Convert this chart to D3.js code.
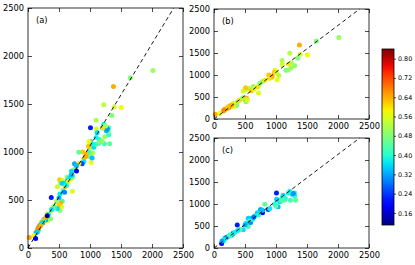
<!DOCTYPE html>
<html><head><meta charset="utf-8">
<script src="https://cdn.jsdelivr.net/npm/d3@7"></script>
<style>body{margin:0;background:#fff}svg{display:block}text{font-family:"DejaVu Sans",sans-serif}</style>
</head><body><svg id="c" width="415" height="265"></svg>
<script>
const axisTicks = [0, 500, 1000, 1500, 2000, 2500];
const cbTicks = [0.16, 0.24, 0.32, 0.40, 0.48, 0.56, 0.64, 0.72, 0.80];
const cbDomain = [0.11, 0.84];
const refLine = [[0, 0], [2350, 2500]];
// [x, y, value]
const seriesB = [
[2015,1850,0.50],[1651,1774,0.48],[1378,1683,0.64],[1222,1493,0.53],[1506,1463,0.58],
[1390,1470,0.55],[1351,1380,0.48],[1099,1330,0.52],[1206,1251,0.60],[1300,1210,0.49],
[1240,1160,0.50],[1195,1114,0.50],[1160,1110,0.48],[1045,990,0.52],[985,1110,0.58],
[975,1060,0.62],[1010,1040,0.55],[884,1000,0.62],[930,950,0.64],[1018,890,0.57],
[900,925,0.60],[780,850,0.50],[740,815,0.48],[713,740,0.53],[718,590,0.56],
[690,720,0.60],[632,740,0.50],[560,700,0.55],[525,675,0.50],[472,637,0.55],
[510,710,0.62],[525,470,0.64],[515,390,0.48],[498,450,0.62],[541,430,0.56],
[461,485,0.50],[418,432,0.49],[375,390,0.50],[364,305,0.48],[311,280,0.56],
[257,300,0.64],[204,235,0.64],[177,220,0.66],[150,182,0.64],[96,130,0.58],
[20,110,0.64],[311,356,0.57],[240,260,0.67],[290,320,0.63],[400,420,0.60],
[600,640,0.62],[650,690,0.56],[820,880,0.60],[940,980,0.63],[1100,1240,0.55],
[1250,1270,0.52],[160,200,0.67],[220,270,0.62]
];
const seriesC = [
[1008,1252,0.22],[1265,1222,0.33],[1302,1252,0.42],[1222,1290,0.38],[1300,1180,0.40],
[1115,1200,0.36],[1318,1087,0.45],[1233,1087,0.42],[1142,1090,0.43],[1061,1050,0.36],
[1100,1150,0.38],[1034,937,0.34],[997,952,0.45],[980,1000,0.40],[1050,1080,0.38],
[873,877,0.25],[820,997,0.45],[782,802,0.20],[750,877,0.32],[700,800,0.36],
[697,760,0.34],[659,727,0.37],[606,675,0.36],[552,675,0.35],[568,600,0.42],
[552,487,0.42],[515,562,0.37],[590,580,0.30],[620,650,0.38],[472,412,0.36],
[375,525,0.22],[311,337,0.15],[284,292,0.33],[230,262,0.36],[177,225,0.34],
[150,165,0.35],[123,100,0.20],[200,240,0.30],[260,300,0.40],[330,350,0.38],
[420,420,0.44],[500,520,0.33],[640,700,0.28],[720,750,0.40],[780,860,0.34],
[900,900,0.37],[1010,1110,0.35],[1150,1130,0.40],[1280,1240,0.31],[170,190,0.38],
[250,280,0.42],[380,400,0.37],[130,160,0.32],[1200,1250,0.38],[1100,1080,0.44]
];

function jet(t){
  function seg(p,t){for(let i=0;i<p.length-1;i++){if(t<=p[i+1][0]){const a=p[i],b=p[i+1];return a[1]+(b[1]-a[1])*(t-a[0])/(b[0]-a[0]);}}return p[p.length-1][1];}
  t=Math.max(0,Math.min(1,t));
  const r=seg([[0,0],[0.35,0],[0.66,1],[0.89,1],[1,0.5]],t);
  const g=seg([[0,0],[0.125,0],[0.375,1],[0.64,1],[0.91,0],[1,0]],t);
  const b=seg([[0,0.5],[0.11,1],[0.34,1],[0.65,0],[1,0]],t);
  return d3.rgb(r*255,g*255,b*255).toString();
}
const cnorm = d3.scaleLinear().domain(cbDomain).range([0,1]);
const color = v => jet(cnorm(v));

const svg = d3.select("#c");
const FS = 8.3;

function panel(box, data, label){
  const x = d3.scaleLinear().domain([0,2500]).range([box.x0, box.x1]);
  const y = d3.scaleLinear().domain([0,2500]).range([box.y1, box.y0]);
  const g = svg.append("g");
  g.selectAll("circle").data(data).join("circle")
    .attr("cx",d=>x(d[0])).attr("cy",d=>y(d[1])).attr("r",2.5)
    .attr("fill",d=>color(d[2]));
  g.append("path").attr("d", d3.line().x(d=>x(d[0])).y(d=>y(d[1]))(refLine))
    .attr("stroke","#000").attr("stroke-width",0.9).attr("stroke-dasharray","4,3").attr("fill","none");
  const mk = (ax, tr) => {
    const a = g.append("g").attr("transform",tr).call(ax);
    a.select(".domain").remove();
    a.selectAll("line").attr("stroke","#000").attr("stroke-width",0.7);
    a.selectAll("text").attr("font-size",FS).attr("font-family","DejaVu Sans").attr("fill","#000");
    return a;
  };
  mk(d3.axisBottom(x).tickValues(axisTicks).tickSize(-4).tickPadding(4).tickFormat(d3.format("d")), `translate(0,${box.y1})`);
  mk(d3.axisLeft(y).tickValues(axisTicks).tickSize(-4).tickPadding(4).tickFormat(d3.format("d")), `translate(${box.x0},0)`);
  mk(d3.axisTop(x).tickValues(axisTicks).tickSize(-4).tickFormat(""), `translate(0,${box.y0})`);
  mk(d3.axisRight(y).tickValues(axisTicks).tickSize(-4).tickFormat(""), `translate(${box.x1},0)`);
  g.append("rect").attr("x",box.x0).attr("y",box.y0).attr("width",box.x1-box.x0).attr("height",box.y1-box.y0)
    .attr("fill","none").attr("stroke","#000").attr("stroke-width",0.8);
  g.append("text").attr("x",box.x0+8).attr("y",box.y0+15).attr("font-size",FS).text(label);
}

panel({x0:28,x1:183,y0:8,y1:248}, seriesB.concat(seriesC).sort((a,b)=>((a[0]*7+a[1]*3)%11)-((b[0]*7+b[1]*3)%11)), "(a)");
panel({x0:214,x1:369,y0:9,y1:119}, seriesB, "(b)");
panel({x0:214,x1:369,y0:138,y1:248}, seriesC, "(c)");

// colorbar
const cb = {x0:382, x1:394, y0:49, y1:225};
const cy = d3.scaleLinear().domain(cbDomain).range([cb.y1, cb.y0]);
const defs = svg.append("defs");
const grad = defs.append("linearGradient").attr("id","jetg").attr("x1",0).attr("y1",1).attr("x2",0).attr("y2",0);
d3.range(0,1.0001,0.05).forEach(t=>grad.append("stop").attr("offset",t).attr("stop-color",jet(t)));
svg.append("rect").attr("x",cb.x0).attr("y",cb.y0).attr("width",cb.x1-cb.x0).attr("height",cb.y1-cb.y0)
  .attr("fill","url(#jetg)").attr("stroke","#000").attr("stroke-width",0.8);
const ca = svg.append("g").attr("transform",`translate(${cb.x1},0)`)
  .call(d3.axisRight(cy).tickValues(cbTicks).tickSize(2).tickPadding(2).tickFormat(d3.format(".2f")));
ca.select(".domain").remove();
ca.selectAll("line").attr("stroke","#000").attr("stroke-width",0.7);
ca.selectAll("text").attr("font-size",6.4).attr("font-family","DejaVu Sans").attr("fill","#000");
</script></body></html>
